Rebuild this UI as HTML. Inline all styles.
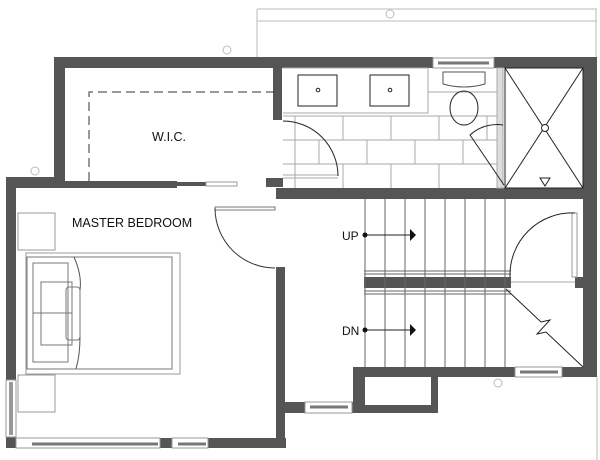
<!DOCTYPE html>
<html><head><style>
html,body{margin:0;padding:0;background:#fff;width:600px;height:460px;overflow:hidden}
svg{display:block}
text{font-family:"Liberation Sans",sans-serif;fill:#111}
</style></head><body>
<svg width="600" height="460" viewBox="0 0 600 460" xmlns="http://www.w3.org/2000/svg">
<!-- dimension lines -->
<g stroke="#bbb" stroke-width="1" fill="none">
<line x1="257" y1="9" x2="597" y2="9"/>
<line x1="257" y1="21" x2="597" y2="21"/>
<line x1="257" y1="9" x2="257" y2="57"/>
<line x1="596" y1="9" x2="596" y2="57"/>
<line x1="597" y1="377" x2="597" y2="460"/>
<circle cx="390" cy="14" r="4"/>
<circle cx="227" cy="50" r="4"/>
<circle cx="35" cy="171" r="4"/>
<circle cx="498" cy="383" r="4"/>
</g>
<!-- walls -->
<g fill="#555">
<rect x="54" y="57" width="379" height="11"/>
<rect x="494" y="57" width="103" height="11"/>
<rect x="583" y="57" width="14" height="320"/>
<rect x="54" y="57" width="11" height="131"/>
<rect x="6" y="177" width="59" height="11"/>
<rect x="65" y="181" width="112" height="7"/>
<rect x="177" y="182" width="29" height="4"/>
<rect x="6" y="177" width="10" height="203"/>
<rect x="6" y="437" width="10" height="11"/>
<rect x="160" y="438" width="12" height="10"/>
<rect x="208" y="438" width="78" height="10"/>
<rect x="276" y="267" width="9" height="181"/>
<rect x="273" y="68" width="9" height="52"/>
<rect x="266" y="178" width="17" height="9"/>
<rect x="276" y="188" width="321" height="11"/>
<rect x="276" y="188" width="9" height="10"/>
<rect x="276" y="402" width="29" height="11"/>
<rect x="352" y="402" width="8" height="11"/>
<rect x="353" y="367" width="12" height="46"/>
<rect x="353" y="405" width="85" height="8"/>
<rect x="431" y="367" width="7" height="46"/>
<rect x="353" y="367" width="162" height="10"/>
<rect x="562" y="367" width="35" height="10"/>
<rect x="364" y="277" width="147" height="11"/>
<rect x="575" y="277" width="8" height="11"/>
</g>
<!-- windows -->
<g fill="none" stroke="#999" stroke-width="1">
<rect x="433" y="58" width="61" height="10"/>
<line x1="438" y1="63" x2="489" y2="63" stroke="#777" stroke-width="3"/>
<rect x="6" y="380" width="10" height="57"/>
<line x1="10" y1="382" x2="10" y2="435" stroke="#333"/>
<line x1="12" y1="382" x2="12" y2="435" stroke="#333"/>
<rect x="16" y="438" width="144" height="10"/>
<line x1="32" y1="444" x2="158" y2="444" stroke="#777" stroke-width="3"/>
<rect x="172" y="438" width="36" height="10"/>
<line x1="178" y1="444" x2="206" y2="444" stroke="#777" stroke-width="3"/>
<rect x="305" y="402" width="47" height="11"/>
<line x1="310" y1="407" x2="348" y2="407" stroke="#777" stroke-width="3"/>
<rect x="515" y="367" width="47" height="10"/>
<line x1="520" y1="372" x2="558" y2="372" stroke="#777" stroke-width="3"/>
<rect x="206" y="182" width="31" height="4"/>
</g>
<!-- WIC dashed -->
<path d="M89 181 V92 H276" fill="none" stroke="#333" stroke-width="1" stroke-dasharray="9,5"/>
<text x="152" y="141" font-size="12.5">W.I.C.</text>
<text x="72" y="227" font-size="12.5">MASTER BEDROOM</text>
<!-- bedroom door -->
<g fill="none" stroke="#333" stroke-width="1">
<rect x="215" y="207" width="60" height="3" stroke="#777"/>
<path d="M215 208 A60 60 0 0 0 275 268"/>
</g>
<!-- bedroom furniture -->
<g fill="none" stroke="#999" stroke-width="1">
<rect x="18" y="213" width="37" height="37"/>
<rect x="18" y="375" width="37" height="37"/>
<rect x="26" y="253" width="154" height="121"/>
<rect x="27" y="257" width="145" height="112" stroke="#777"/>
<rect x="33" y="263" width="35" height="50" stroke="#777"/>
<rect x="33" y="313" width="35" height="49" stroke="#777"/>
<rect x="41" y="282" width="31" height="31" stroke="#777"/>
<rect x="41" y="313" width="31" height="32" stroke="#777"/>
<rect x="66" y="287" width="14" height="53" rx="3" stroke="#777"/>
<path d="M74 257 Q82 275 80 290 M80 337 Q80 355 76 369" stroke="#555"/>
</g>
<!-- bathroom -->
<g fill="none" stroke="#aaa" stroke-width="1">
<line x1="283" y1="116" x2="497" y2="116"/>
<line x1="283" y1="140" x2="497" y2="140"/>
<line x1="283" y1="164" x2="497" y2="164"/>
<line x1="428" y1="92" x2="497" y2="92"/>
<path d="M295 116 V188 M343 116 V140 M391 116 V140 M439 116 V140 M487 116 V140 M319 140 V164 M367 140 V164 M415 140 V164 M463 140 V164 M343 164 V188 M391 164 V188 M439 164 V188"/>
<path d="M283 68 H428 V113 H283"/>
<rect x="497" y="68" width="6" height="120" fill="#ddd"/>
<line x1="283" y1="175" x2="338" y2="175"/>
<line x1="283" y1="178" x2="338" y2="178"/>
</g>
<g fill="none" stroke="#222" stroke-width="1">
<rect x="298" y="75" width="39" height="31"/>
<rect x="370" y="75" width="39" height="31"/>
<circle cx="318" cy="90" r="1.8"/>
<circle cx="390" cy="90" r="1.8"/>
<path d="M443 72 h42 v12 q-21 6 -42 0 z" stroke="#555"/>
<ellipse cx="464" cy="108" rx="14" ry="17"/>
<path d="M283 121 A55 55 0 0 1 338 176"/>
<path d="M503 125 A40 40 0 0 0 470 135 L504 185"/>
<rect x="505" y="68" width="78" height="120"/>
<line x1="505" y1="68" x2="583" y2="188"/>
<line x1="583" y1="68" x2="505" y2="188"/>
<circle cx="545" cy="128" r="3.5" fill="#fff"/>
<path d="M540 178 h10 l-5 8 z"/>
</g>
<!-- stairs -->
<g stroke="#666" stroke-width="1" fill="none">
<path d="M365 199 V367 M385 199 V367 M405 199 V367 M425 199 V367 M445 199 V367 M465 199 V367 M485 199 V367 M505 199 V367"/>
<line x1="364" y1="271" x2="511" y2="271"/>
<line x1="364" y1="274" x2="511" y2="274"/>
<line x1="364" y1="291" x2="511" y2="291"/>
<line x1="364" y1="294" x2="511" y2="294"/>
<line x1="511" y1="282" x2="575" y2="282" stroke="#aaa"/>
<rect x="572" y="213" width="5" height="64" stroke="#999"/>
</g>
<g stroke="#222" stroke-width="1" fill="none">
<path d="M510 277 A62 62 0 0 1 575 213"/>
<path d="M506 289 L541 322 L550 320 L537 334 L546 332 L583 367"/>
<line x1="365" y1="235" x2="410" y2="235"/>
<line x1="365" y1="330" x2="410" y2="330"/>
</g>
<circle cx="365" cy="235" r="2.5" fill="#111"/>
<circle cx="365" cy="330" r="2.5" fill="#111"/>
<path d="M410 229 L416 235 L410 241 Z" fill="#111"/>
<path d="M410 324 L416 330 L410 336 Z" fill="#111"/>
<text x="342" y="240" font-size="12">UP</text>
<text x="342" y="335" font-size="12">DN</text>
</svg>
</body></html>
